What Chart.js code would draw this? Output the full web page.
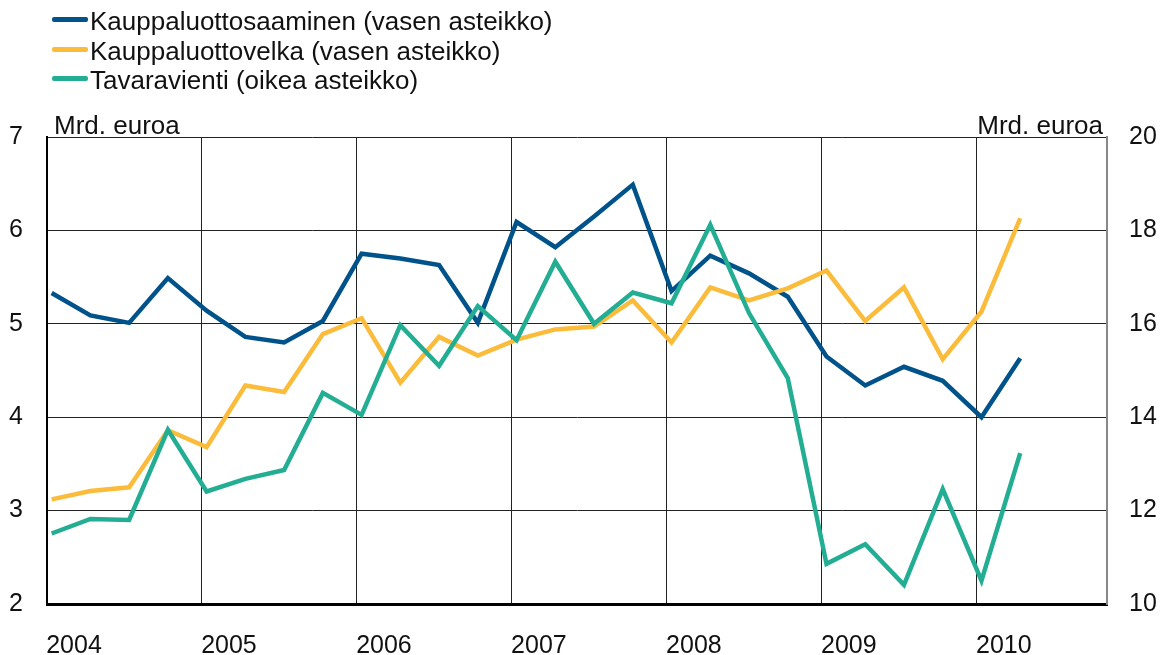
<!DOCTYPE html>
<html>
  <head>
    <meta charset="utf-8" />
    <script src="https://cdn.jsdelivr.net/npm/chart.js@4"></script>
    <style>
      body { margin: 0; background: #fff; font-family: 'Liberation Sans', Arial, sans-serif; }
      #wrap { position: relative; width: 1167px; height: 655px; }
      #legend { position: absolute; left: 52px; top: 7px; font-size: 26px; color: #111; }
      #legend div { height: 29.7px; line-height: 29.7px; white-space: nowrap; }
      #legend span { display: inline-block; width: 36px; height: 5px; border-radius: 2px; vertical-align: 8px; margin-right: 2px; }
    </style>
  </head>

  <body>
    <div id="wrap">
      <canvas id="canvas"></canvas>
      <div id="legend"></div>
    </div>
    <script>
      // quarterly observations, 2004Q1 - 2010Q2
      const quarters = [
        '2004Q1', '2004Q2', '2004Q3', '2004Q4',
        '2005Q1', '2005Q2', '2005Q3', '2005Q4',
        '2006Q1', '2006Q2', '2006Q3', '2006Q4',
        '2007Q1', '2007Q2', '2007Q3', '2007Q4',
        '2008Q1', '2008Q2', '2008Q3', '2008Q4',
        '2009Q1', '2009Q2', '2009Q3', '2009Q4',
        '2010Q1', '2010Q2',
      ];
      const receivables = [
        5.33, 5.09, 5.01, 5.49, 5.14, 4.86, 4.80, 5.03,
        5.75, 5.70, 5.63, 5.01, 6.09, 5.82, 6.15, 6.49,
        5.35, 5.73, 5.54, 5.29, 4.65, 4.34, 4.54, 4.39,
        4.00, 4.63,
      ];
      const payables = [
        3.12, 3.21, 3.25, 3.86, 3.68, 4.34, 4.27, 4.89,
        5.06, 4.37, 4.86, 4.66, 4.83, 4.94, 4.97, 5.25,
        4.80, 5.39, 5.25, 5.38, 5.57, 5.03, 5.39, 4.62,
        5.13, 6.13,
      ];
      const exports = [
        11.51, 11.82, 11.80, 13.73, 12.41, 12.68, 12.87, 14.52,
        14.05, 15.97, 15.10, 16.38, 15.65, 17.33, 16.00, 16.67,
        16.44, 18.12, 16.23, 14.84, 10.86, 11.28, 10.41, 12.46,
        10.50, 13.23,
      ];
      const yearTicks = [2004, 2005, 2006, 2007, 2008, 2009, 2010];
      const leftTicks = [2, 3, 4, 5, 6, 7];
      const rightTicks = [10, 12, 14, 16, 18, 20];

      const seriesNames = [
        'Kauppaluottosaaminen (vasen asteikko)',
        'Kauppaluottovelka (vasen asteikko)',
        'Tavaravienti (oikea asteikko)',
      ];
      const colors = ['#00538a', '#fbbb3b', '#23ae94'];
      const unit = 'Mrd. euroa';

      const qx = (q) => +q.slice(0, 4) + (+q.slice(5) - 1) / 4 + 0.03;
      const toPoints = (vals) => vals.map((v, i) => ({ x: qx(quarters[i]), y: v }));

      const font = { family: "'Liberation Sans', Arial, sans-serif", size: 25 };

      const unitLabels = {
        id: 'unitLabels',
        afterDraw(chart) {
          const { ctx, chartArea } = chart;
          ctx.save();
          ctx.font = "26px 'Liberation Sans', Arial, sans-serif";
          ctx.fillStyle = '#111';
          ctx.textBaseline = 'alphabetic';
          ctx.textAlign = 'left';
          ctx.fillText(unit, chartArea.left + 7, chartArea.top - 3);
          ctx.textAlign = 'right';
          ctx.fillText(unit, chartArea.right - 4, chartArea.top - 3);
          ctx.restore();
        },
      };

      const chart = new Chart(document.getElementById('canvas'), {
        type: 'line',
        data: {
          datasets: [
            { label: seriesNames[0], data: toPoints(receivables), borderColor: colors[0], yAxisID: 'y', order: 3 },
            { label: seriesNames[1], data: toPoints(payables), borderColor: colors[1], yAxisID: 'y', order: 2 },
            { label: seriesNames[2], data: toPoints(exports), borderColor: colors[2], yAxisID: 'y2', order: 1 },
          ],
        },
        options: {
          responsive: true,
          maintainAspectRatio: false,
          animation: false,
          layout: { padding: { top: 137, left: 0, right: 0, bottom: 0 } },
          elements: {
            point: { radius: 0 },
            line: { borderWidth: 4.5, tension: 0, borderJoinStyle: 'miter' },
          },
          plugins: { legend: { display: false }, tooltip: { enabled: false } },
          scales: {
            x: {
              type: 'linear',
              min: 2004,
              max: 2010.84,
              afterBuildTicks: (s) => { s.ticks = yearTicks.map((v) => ({ value: v })); },
              afterFit: (s) => { s.height = 51; s.paddingLeft = 0; s.paddingRight = 0; },
              grid: { color: '#222', lineWidth: 1, drawTicks: false },
              border: { color: '#000', width: 3 },
              ticks: { font, color: '#111', padding: 27, labelOffset: 27, maxRotation: 0, callback: (v) => String(v) },
            },
            y: {
              position: 'left',
              min: 2,
              max: 7,
              afterBuildTicks: (s) => { s.ticks = leftTicks.map((v) => ({ value: v })); },
              afterFit: (s) => { s.width = 47; },
              grid: { color: '#222', lineWidth: 1, drawTicks: false },
              border: { color: '#000', width: 2 },
              ticks: { font, color: '#111', padding: 24 },
            },
            y2: {
              position: 'right',
              min: 10,
              max: 20,
              afterBuildTicks: (s) => { s.ticks = rightTicks.map((v) => ({ value: v })); },
              afterFit: (s) => { s.width = 60; },
              grid: { drawOnChartArea: false, drawTicks: false },
              border: { color: '#888', width: 2 },
              ticks: { font, color: '#111', padding: 22 },
            },
          },
        },
        plugins: [unitLabels],
      });

      document.getElementById('legend').innerHTML = seriesNames
        .map((n, i) => `<div><span style="background:${colors[i]}"></span>${n}</div>`)
        .join('');
    </script>
  </body>
</html>
